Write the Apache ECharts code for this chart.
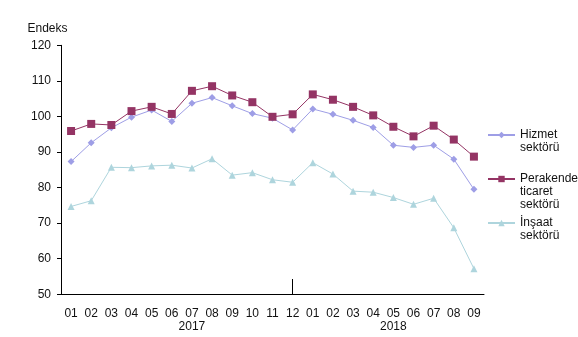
<!DOCTYPE html>
<html>
<head>
<meta charset="utf-8">
<script src="https://cdn.jsdelivr.net/npm/echarts@6/dist/echarts.min.js"></script>
<style>
html,body{margin:0;padding:0;background:#fff;}
#chart{width:578px;height:337px;}
</style>
</head>
<body>
<div id="chart"></div>
<script>
var months = ['01','02','03','04','05','06','07','08','09','10','11','12','01','02','03','04','05','06','07','08','09'];
var yearLabels = {6: '2017', 16: '2018'};
var hizmet = [87.3,92.6,96.8,99.8,101.8,98.6,103.7,105.3,103.0,100.8,99.5,96.2,102.1,100.6,98.9,96.9,91.9,91.3,91.9,88.0,79.5];
var perakende = [95.9,97.9,97.6,101.5,102.7,100.7,107.2,108.5,105.9,104.0,99.9,100.6,106.2,104.7,102.7,100.3,97.1,94.4,97.4,93.5,88.7];
var insaat = [74.7,76.3,85.7,85.6,86.1,86.3,85.5,88.1,83.5,84.2,82.2,81.5,87.0,83.8,79.0,78.7,77.2,75.3,77.0,68.7,57.2];
var names = ['Hizmet\nsektörü', 'Perakende\nticaret\nsektörü', 'İnşaat\nsektörü'];
var yearSepIndex = 11;
var yearSepTop = 54.3;

var font = 'Liberation Sans, Arial, sans-serif';
var cPer = '#943464', cHiz = '#9E9EE6', cIns = '#AED5DD';

function legendFor(name, top) {
  var lines = name.split('\n').length;
  var lead = new Array(lines).join('\n');
  return {
    data: [name],
    orient: 'vertical',
    left: 487,
    top: top,
    padding: 0,
    itemWidth: 27,
    itemHeight: 8,
    itemGap: 0,
    formatter: function (n) { return lead + n; },
    textStyle: {fontFamily: font, fontSize: 12, color: '#111', lineHeight: 13}
  };
}

var chart = echarts.init(document.getElementById('chart'), null, {renderer: 'canvas'});
chart.setOption({
  animation: false,
  backgroundColor: '#fff',
  textStyle: {fontFamily: font},
  grid: {left: 61, right: 94, top: 45.3, bottom: 42.7},
  legend: [
    legendFor(names[0], 115.5),
    legendFor(names[1], 146.5),
    legendFor(names[2], 203.5)
  ],
  xAxis: {
    type: 'category',
    data: months,
    boundaryGap: true,
    axisLine: {lineStyle: {color: '#000', width: 1}},
    axisTick: {alignWithLabel: true, length: 5, lineStyle: {color: '#000'}},
    axisLabel: {
      interval: 0, color: '#111', fontSize: 12, fontFamily: font, margin: 13, lineHeight: 13,
      formatter: function (v, i) { return yearLabels[i] ? v + '\n' + yearLabels[i] : v; }
    }
  },
  yAxis: {
    type: 'value', min: 50, max: 120, interval: 10,
    name: 'Endeks', nameLocation: 'end', nameGap: 11,
    nameTextStyle: {color: '#111', fontSize: 12, fontFamily: font, align: 'center', padding: [0, 27, 0, 0]},
    axisLine: {show: true, lineStyle: {color: '#000', width: 1}},
    axisTick: {show: true, length: 4, lineStyle: {color: '#000'}},
    splitLine: {show: false},
    axisLabel: {color: '#111', fontSize: 12, fontFamily: font, margin: 10}
  },
  series: [
    {
      name: names[0], type: 'line', data: hizmet,
      symbol: 'diamond', symbolSize: 7,
      lineStyle: {color: cHiz, width: 1}, itemStyle: {color: cHiz}, z: 3
    },
    {
      name: names[1], type: 'line', data: perakende,
      symbol: 'rect', symbolSize: 8,
      lineStyle: {color: cPer, width: 1}, itemStyle: {color: cPer}, z: 4,
      markLine: {
        silent: true, symbol: 'none', label: {show: false},
        lineStyle: {color: '#000', width: 1, type: 'solid'},
        data: [[{xAxis: yearSepIndex, yAxis: yearSepTop}, {xAxis: yearSepIndex, yAxis: 50}]]
      }
    },
    {
      name: names[2], type: 'line', data: insaat,
      symbol: 'triangle', symbolSize: 7,
      lineStyle: {color: cIns, width: 1}, itemStyle: {color: cIns}, z: 2
    }
  ]
});
</script>
</body>
</html>
